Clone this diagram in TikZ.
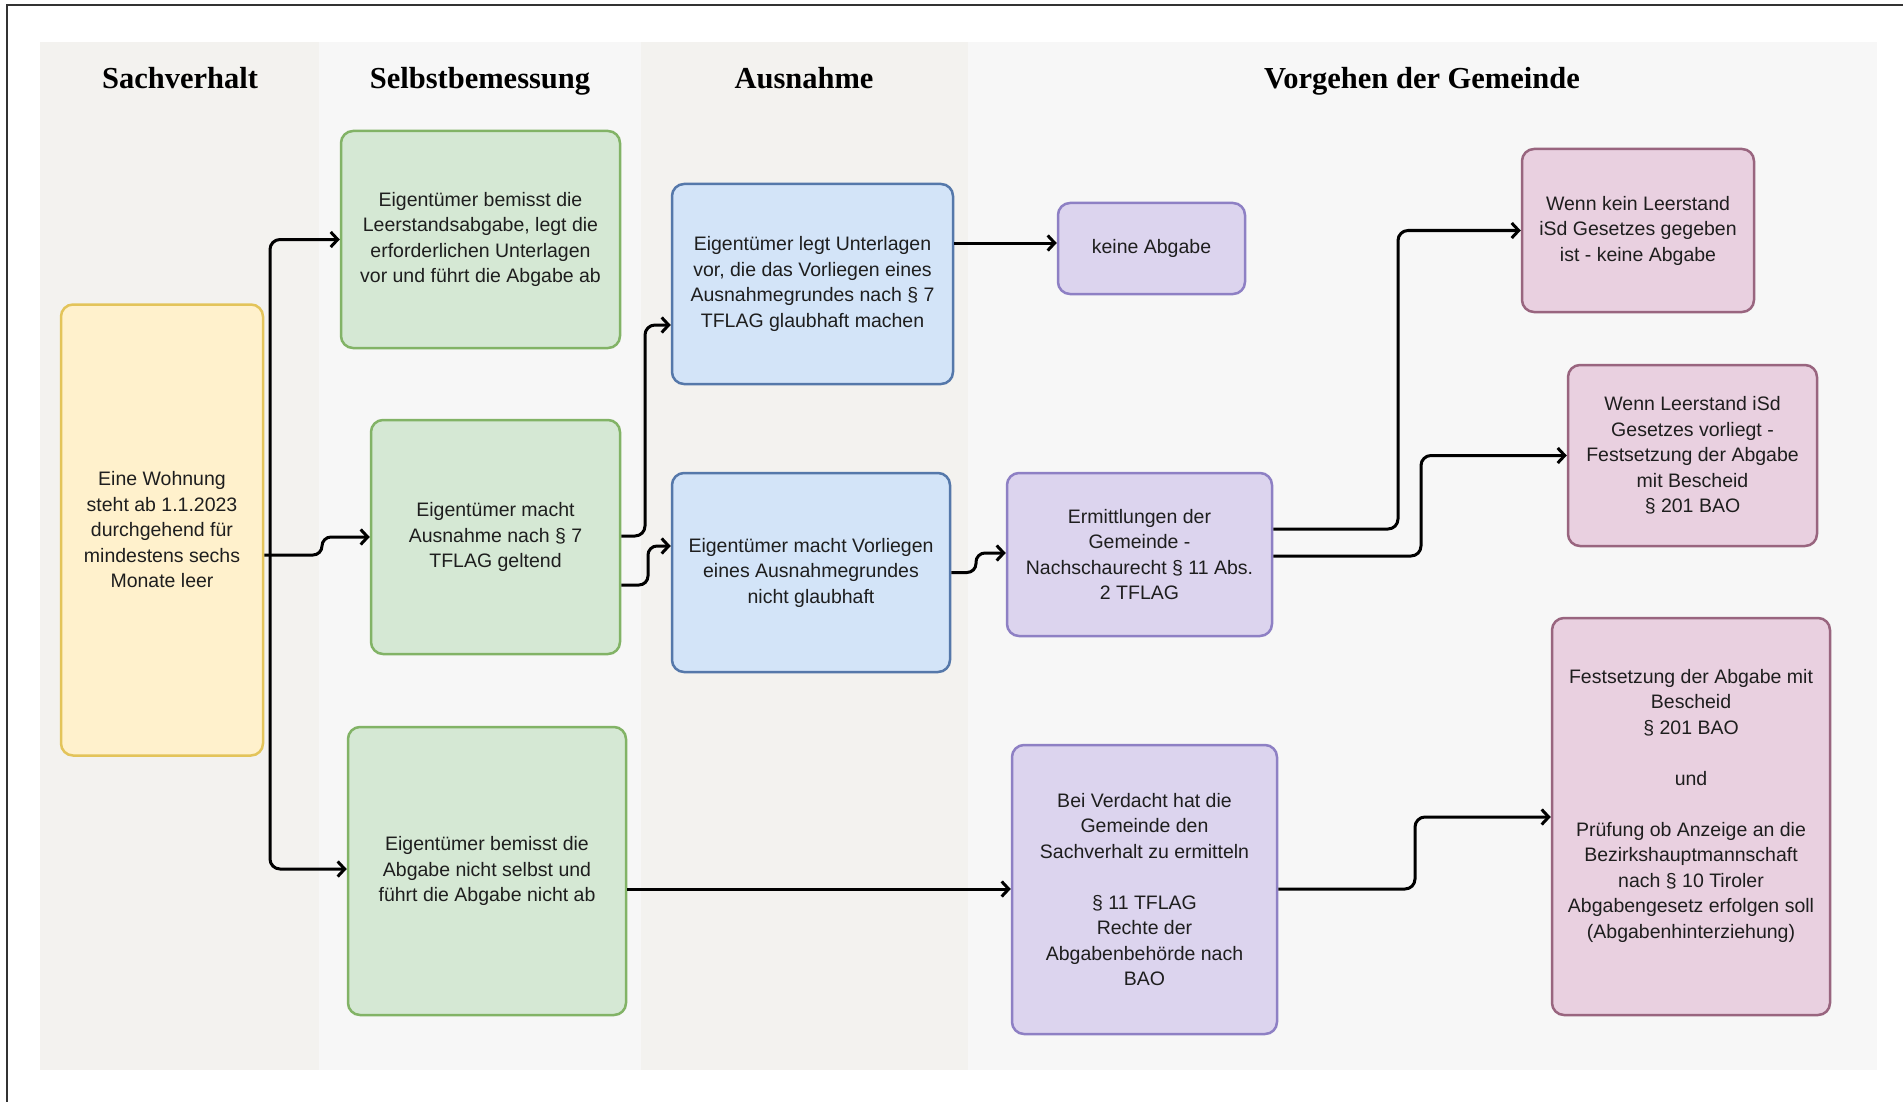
\documentclass[tikz,border=0pt]{standalone}
\usepackage{fontspec}
\setmainfont{Liberation Sans}
\newfontfamily\titlefont{Liberation Serif}
\usetikzlibrary{arrows.meta,calc}
\definecolor{laneA}{HTML}{F3F2EF}
\definecolor{laneB}{HTML}{F7F7F7}
\definecolor{yfill}{HTML}{FFF1CC}
\definecolor{ydraw}{HTML}{E3C45A}
\definecolor{gfill}{HTML}{D5E8D4}
\definecolor{gdraw}{HTML}{82B366}
\definecolor{bfill}{HTML}{D3E4F8}
\definecolor{bdraw}{HTML}{5578AA}
\definecolor{pfill}{HTML}{DCD4EE}
\definecolor{pdraw}{HTML}{8E80C4}
\definecolor{kfill}{HTML}{E9D0E0}
\definecolor{kdraw}{HTML}{99657F}
\definecolor{txt}{HTML}{1E1E1E}
\definecolor{frame}{HTML}{333333}
\begin{document}
\begin{tikzpicture}[x=1pt,y=-1pt,
  box/.style={draw, rounded corners=12pt, line width=2.5pt, align=center, inner sep=0pt, text=txt, font=\fontsize{19.5}{25.5}\selectfont},
  ybox/.style={box, fill=yfill, draw=ydraw},
  gbox/.style={box, fill=gfill, draw=gdraw},
  bbox/.style={box, fill=bfill, draw=bdraw},
  pbox/.style={box, fill=pfill, draw=pdraw},
  kbox/.style={box, fill=kfill, draw=kdraw},
  conn/.style={line width=3pt, draw=black, rounded corners=10pt, -{Straight Barb[length=7pt,width=15pt]}},
  sconn/.style={conn, rounded corners=9pt},
  lanetitle/.style={font=\titlefont\bfseries\fontsize{30.5}{36}\selectfont, anchor=base, text=black, inner sep=0pt}]

\useasboundingbox (0,0) rectangle (1903,1102);
\fill[white] (0,0) rectangle (1903,1102);

% outer frame (top and left only)
\draw[frame, line width=2pt] (7,1102) -- (7,5) -- (1903,5);

% lanes
\fill[laneA] (40,42) rectangle (319,1070);
\fill[laneB] (319,42) rectangle (641,1070);
\fill[laneA] (641,42) rectangle (968,1070);
\fill[laneB] (968,42) rectangle (1877,1070);

\node[lanetitle] (t1) at (180,89) {Sachverhalt};
\node[lanetitle] (t2) at (480,89) {Selbstbemessung};
\node[lanetitle] (t3) at (804,89) {Ausnahme};
\node[lanetitle] (t4) at (1422,89) {Vorgehen der Gemeinde};

% nodes
\node[ybox, minimum width=202pt, minimum height=451pt] (y) at (162,530)
  {Eine Wohnung\\steht ab 1.1.2023\\durchgehend für\\mindestens sechs\\Monate leer};

\node[gbox, minimum width=279pt, minimum height=217pt] (g1) at (480.5,239.5)
  {Eigentümer bemisst die\\Leerstandsabgabe, legt die\\erforderlichen Unterlagen\\vor und führt die Abgabe ab};
\node[gbox, minimum width=249pt, minimum height=234pt] (g2) at (495.5,537)
  {Eigentümer macht\\Ausnahme nach § 7\\TFLAG geltend};
\node[gbox, minimum width=278pt, minimum height=288pt] (g3) at (487,871)
  {Eigentümer bemisst die\\Abgabe nicht selbst und\\führt die Abgabe nicht ab};

\node[bbox, minimum width=281pt, minimum height=200pt] (b1) at (812.5,284)
  {Eigentümer legt Unterlagen\\vor, die das Vorliegen eines\\Ausnahmegrundes nach § 7\\TFLAG glaubhaft machen};
\node[bbox, minimum width=278pt, minimum height=199pt] (b2) at (811,572.5)
  {Eigentümer macht Vorliegen\\eines Ausnahmegrundes\\nicht glaubhaft};

\node[pbox, minimum width=187pt, minimum height=91pt] (p1) at (1151.5,248.5)
  {keine Abgabe};
\node[pbox, minimum width=265pt, minimum height=163pt] (p2) at (1139.5,554.5)
  {Ermittlungen der\\Gemeinde -\\Nachschaurecht § 11 Abs.\\2 TFLAG};
\node[pbox, minimum width=265pt, minimum height=289pt] (p3) at (1144.5,889.5)
  {Bei Verdacht hat die\\Gemeinde den\\Sachverhalt zu ermitteln\\\mbox{}\\§ 11 TFLAG\\Rechte der\\Abgabenbehörde nach\\BAO};

\node[kbox, minimum width=232pt, minimum height=163pt] (k1) at (1638,230.5)
  {Wenn kein Leerstand\\iSd Gesetzes gegeben\\ist - keine Abgabe};
\node[kbox, minimum width=249pt, minimum height=181pt] (k2) at (1692.5,455.5)
  {Wenn Leerstand iSd\\Gesetzes vorliegt -\\Festsetzung der Abgabe\\mit Bescheid\\§ 201 BAO};
\node[kbox, minimum width=278pt, minimum height=397pt] (k3) at (1691,816.5)
  {Festsetzung der Abgabe mit\\Bescheid\\§ 201 BAO\\\mbox{}\\und\\\mbox{}\\Prüfung ob Anzeige an die\\Bezirkshauptmannschaft\\nach § 10 Tiroler\\Abgabengesetz erfolgen soll\\(Abgabenhinterziehung)\\\mbox{}};

% connectors
\coordinate (trunk) at (270,555);
\draw[sconn] ($(y.east)+(0,25)$) -- (322,555) -- (322,537) -- (g2.west);
\draw[conn] (trunk) |- (g1.west);
\draw[conn] (trunk) |- ($(g3.west)+(0,-2)$);

\draw[conn] ($(g2.east)+(0,-1)$) -- (645,536) -- (645,325) -- ($(b1.west)+(0,41)$);
\draw[sconn] ($(g2.east)+(0,48)$) -- (648,585) -- (648,546) -- ($(b2.west)+(0,-26.5)$);

\draw[conn] ($(b1.east)+(0,-41)$) -- ($(p1.west)+(0,-5.5)$);
\draw[sconn] (b2.east) -- (976,572.5) -- (976,553) -- ($(p2.west)+(0,-1.5)$);

\draw[conn] ($(p2.east)+(0,-25.5)$) -- (1398,529) -- (1398,230.5) -- (k1.west);
\draw[conn] ($(p2.east)+(0,1.5)$) -- (1421,556) -- (1421,455.5) -- (k2.west);

\draw[conn] ($(g3.east)+(0,18)$) -- ($(p3.west)+(0,-0.5)$);
\draw[conn] ($(p3.east)+(0,-0.5)$) -- (1415,889) -- (1415,817) -- ($(k3.west)+(0,0.5)$);

\end{tikzpicture}
\end{document}
